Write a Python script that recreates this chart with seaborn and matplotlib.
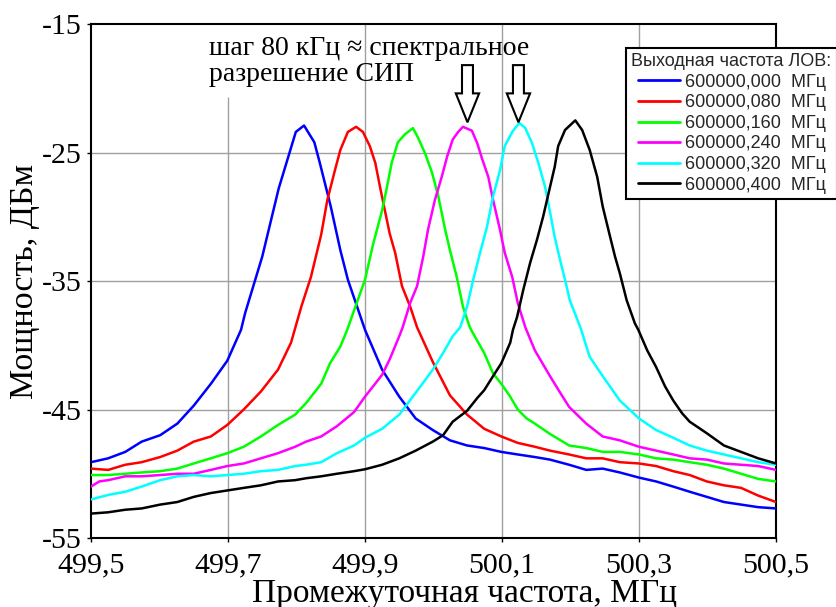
import numpy as np
import pandas as pd
import matplotlib
matplotlib.use("Agg")
import matplotlib.pyplot as plt
import seaborn as sns
from matplotlib.lines import Line2D
from matplotlib.legend_handler import HandlerLine2D
from matplotlib.patches import FancyArrow

# ---------------- data ----------------
lov_freqs = ["600000,000", "600000,080", "600000,160", "600000,240", "600000,320", "600000,400"]
colors = ["#0000ff", "#ff0000", "#00ff00", "#ff00ff", "#00ffff", "#000000"]

x_blue = [499.500, 499.525, 499.550, 499.574, 499.601, 499.626, 499.650, 499.675, 499.699, 499.719,
          499.725, 499.750, 499.774, 499.799, 499.811, 499.826, 499.834, 499.850, 499.864, 499.875,
          499.900, 499.925, 499.950, 499.974, 499.999, 500.024, 500.049, 500.074, 500.099, 500.123,
          500.148, 500.170, 500.198, 500.223, 500.247, 500.272, 500.300, 500.325, 500.350, 500.374,
          500.399, 500.424, 500.449, 500.474, 500.500]
y_blue = [-49.1, -48.8, -48.3, -47.5, -47.0, -46.1, -44.7, -43.0, -41.2, -38.8,
          -37.5, -33.1, -27.8, -23.4, -22.9, -24.2, -25.8, -29.2, -32.6, -34.9,
          -38.8, -41.9, -44.0, -45.7, -46.6, -47.4, -47.8, -48.0, -48.3, -48.5,
          -48.7, -48.9, -49.3, -49.7, -49.6, -49.9, -50.3, -50.6, -51.0, -51.4,
          -51.8, -52.2, -52.4, -52.6, -52.7]

x_red = [499.500, 499.525, 499.550, 499.574, 499.601, 499.626, 499.650, 499.675, 499.699, 499.723,
         499.748, 499.773, 499.792, 499.807, 499.821, 499.836, 499.845, 499.856, 499.864, 499.875,
         499.887, 499.897, 499.907, 499.915, 499.922, 499.929, 499.936, 499.944, 499.954, 499.966,
         499.976, 499.999, 500.024, 500.049, 500.074, 500.099, 500.123, 500.148, 500.170, 500.198,
         500.223, 500.247, 500.272, 500.300, 500.325, 500.350, 500.374, 500.399, 500.424, 500.449,
         500.474, 500.500]
y_red = [-49.6, -49.7, -49.3, -49.1, -48.7, -48.2, -47.5, -47.1, -46.2, -45.0,
         -43.6, -41.9, -39.8, -37.0, -34.7, -31.4, -28.7, -26.4, -24.8, -23.4,
         -23.0, -23.4, -24.5, -25.8, -27.7, -29.5, -31.3, -32.8, -35.4, -37.0,
         -38.6, -41.3, -43.9, -45.4, -46.5, -47.1, -47.6, -47.9, -48.2, -48.5,
         -48.8, -48.8, -49.1, -49.2, -49.4, -49.8, -50.1, -50.6, -50.9, -51.1,
         -51.7, -52.2]

x_green = [499.500, 499.525, 499.550, 499.574, 499.601, 499.626, 499.650, 499.675, 499.699, 499.723,
           499.748, 499.773, 499.798, 499.814, 499.836, 499.849, 499.864, 499.874, 499.888, 499.900,
           499.912, 499.925, 499.932, 499.939, 499.948, 499.958, 499.970, 499.977, 499.988, 499.998,
           500.007, 500.017, 500.024, 500.034, 500.043, 500.053, 500.058, 500.074, 500.087, 500.099,
           500.112, 500.123, 500.136, 500.148, 500.170, 500.198, 500.223, 500.247, 500.272, 500.300,
           500.325, 500.350, 500.374, 500.399, 500.424, 500.449, 500.474, 500.500]
y_green = [-50.1, -50.1, -50.0, -49.9, -49.8, -49.6, -49.2, -48.8, -48.4, -47.9,
           -47.1, -46.2, -45.4, -44.5, -43.0, -41.4, -40.1, -38.8, -36.7, -34.9,
           -32.1, -29.5, -27.7, -25.8, -24.2, -23.6, -23.1, -23.8, -25.1, -26.6,
           -28.4, -31.0, -32.6, -34.7, -37.0, -38.6, -39.1, -40.6, -42.2, -43.0,
           -44.0, -45.0, -45.7, -46.1, -46.9, -47.8, -48.0, -48.3, -48.3, -48.5,
           -48.8, -48.9, -49.1, -49.3, -49.6, -50.0, -50.4, -50.6]

x_magenta = [499.500, 499.512, 499.525, 499.550, 499.574, 499.601, 499.626, 499.650, 499.675, 499.699,
             499.723, 499.748, 499.773, 499.798, 499.814, 499.836, 499.859, 499.884, 499.900, 499.925,
             499.936, 499.950, 499.955, 499.966, 499.976, 499.985, 499.992, 500.002, 500.012, 500.020,
             500.028, 500.036, 500.043, 500.056, 500.064, 500.071, 500.080, 500.087, 500.097, 500.104,
             500.115, 500.123, 500.134, 500.148, 500.170, 500.185, 500.198, 500.223, 500.247, 500.272,
             500.300, 500.325, 500.350, 500.374, 500.399, 500.424, 500.449, 500.474, 500.500]
y_magenta = [-51.0, -50.6, -50.5, -50.2, -50.2, -50.1, -50.0, -50.0, -49.7, -49.4,
             -49.2, -48.8, -48.4, -47.9, -47.5, -47.1, -46.3, -45.2, -44.0, -42.3,
             -41.1, -39.3, -38.6, -36.7, -35.4, -33.1, -31.0, -28.7, -26.9, -25.3,
             -24.0, -23.4, -23.0, -23.3, -24.3, -25.5, -26.9, -28.7, -31.0, -32.8,
             -34.7, -36.7, -38.6, -40.4, -42.4, -43.7, -44.8, -46.1, -47.1, -47.4,
             -47.9, -48.2, -48.5, -48.8, -48.9, -49.2, -49.3, -49.4, -49.7]

x_cyan = [499.500, 499.525, 499.550, 499.574, 499.601, 499.626, 499.650, 499.675, 499.699, 499.723,
          499.748, 499.773, 499.798, 499.814, 499.836, 499.859, 499.884, 499.900, 499.925, 499.950,
          499.974, 499.999, 500.014, 500.028, 500.039, 500.049, 500.058, 500.068, 500.078, 500.087,
          500.097, 500.104, 500.115, 500.125, 500.134, 500.144, 500.153, 500.163, 500.170, 500.177,
          500.185, 500.192, 500.199, 500.215, 500.228, 500.247, 500.272, 500.300, 500.325, 500.350,
          500.374, 500.399, 500.424, 500.449, 500.474, 500.500]
y_cyan = [-52.0, -51.65, -51.4, -51.0, -50.5, -50.2, -50.1, -50.2, -50.1, -50.0,
          -49.8, -49.7, -49.4, -49.3, -49.1, -48.4, -47.8, -47.2, -46.5, -45.4,
          -43.7, -41.9, -40.6, -39.3, -38.6, -37.0, -34.9, -32.8, -30.8, -28.4,
          -26.4, -24.5, -23.4, -22.7, -23.1, -24.3, -25.8, -27.7, -29.6, -31.6,
          -33.4, -34.9, -36.5, -38.7, -40.9, -42.4, -44.3, -45.7, -46.6, -47.2,
          -47.8, -48.2, -48.5, -48.8, -49.1, -49.3]

x_black = [499.500, 499.525, 499.550, 499.574, 499.601, 499.626, 499.650, 499.675, 499.699, 499.723,
           499.748, 499.773, 499.798, 499.814, 499.836, 499.859, 499.884, 499.900, 499.925, 499.950,
           499.974, 499.999, 500.014, 500.028, 500.049, 500.064, 500.074, 500.087, 500.099, 500.112,
           500.116, 500.122, 500.131, 500.141, 500.151, 500.160, 500.170, 500.177, 500.182, 500.192,
           500.207, 500.217, 500.228, 500.239, 500.247, 500.258, 500.265, 500.272, 500.282, 500.294,
           500.299, 500.312, 500.325, 500.338, 500.350, 500.363, 500.374, 500.399, 500.424, 500.449,
           500.474, 500.500]
y_black = [-53.1, -53.0, -52.8, -52.7, -52.4, -52.2, -51.8, -51.5, -51.3, -51.1,
           -50.9, -50.6, -50.5, -50.35, -50.2, -50.0, -49.8, -49.65, -49.3, -48.8,
           -48.2, -47.5, -47.0, -45.95, -45.1, -44.1, -43.5, -42.4, -41.4, -39.8,
           -38.8, -37.8, -35.7, -33.6, -31.8, -30.0, -27.7, -26.1, -24.5, -23.25,
           -22.5, -23.25, -24.8, -26.9, -29.2, -31.6, -33.1, -34.4, -36.5, -38.3,
           -38.8, -40.4, -41.7, -43.2, -44.3, -45.3, -45.95, -46.85, -47.8, -48.3,
           -48.8, -49.2]

xtick_vals = [499.5, 499.7, 499.9, 500.1, 500.3, 500.5]
xtick_labels = ["499,5", "499,7", "499,9", "500,1", "500,3", "500,5"]
ytick_vals = [-55, -45, -35, -25, -15]
ytick_labels = ["-55", "-45", "-35", "-25", "-15"]

arrow_x = [500.0496, 500.124]          # arrows marking the 80 kHz step
annotation = "шаг 80 кГц ≈ спектральное\nразрешение СИП"

# ---------------- build frame ----------------
series_x = [x_blue, x_red, x_green, x_magenta, x_cyan, x_black]
series_y = [y_blue, y_red, y_green, y_magenta, y_cyan, y_black]
labels = [f"{f}  МГц" for f in lov_freqs]
df = pd.concat([pd.DataFrame({"f": xs, "p": ys, "series": lab})
                for xs, ys, lab in zip(series_x, series_y, labels)], ignore_index=True)

sns.set_theme(style="ticks")
plt.rcParams['font.family'] = ['Liberation Serif', 'DejaVu Serif']

fig = plt.figure(figsize=(8.37, 6.07), dpi=100)
ax = fig.add_axes([91/837, 1-538/607, 685/837, 514/607])

# grid (drawn first, under the curves)
grid_c = "#a0a0a0"
for yv in ytick_vals[1:-1]:
    ax.axhline(yv, color=grid_c, lw=1.0, zorder=0)
for i, xv in enumerate(xtick_vals[1:-1]):
    top = -20.68 if i == 0 else -15
    ax.vlines(xv, -55, top, color=grid_c, lw=1.0, zorder=0)

sns.lineplot(data=df, x="f", y="p", hue="series", hue_order=labels, palette=colors,
             estimator=None, sort=False, lw=1.8, ax=ax, legend=False, zorder=3)

ax.set_xlim(499.5, 500.5)
ax.set_ylim(-55, -15)
ax.set_xticks(xtick_vals)
ax.set_xticklabels(xtick_labels)
ax.set_yticks(ytick_vals)
ax.set_yticklabels(ytick_labels)
ax.tick_params(axis='both', direction='out', length=3, width=1, labelsize=21.5, colors='black')
ax.tick_params(axis='x', pad=7)
ax.tick_params(axis='y', pad=4)
for s in ax.spines.values():
    s.set_color('black')
    s.set_linewidth(1.5)

ax.set_xlabel("Промежуточная частота, МГц", fontsize=24, color='black')
ax.set_ylabel("Мощность, ДБм", fontsize=24.5, color='black')
ax.xaxis.set_label_coords(0.546, -0.078)
ax.yaxis.set_label_coords(-0.075, 0.5)

# annotation text
fig.text(209/837, 1-36/607, annotation, ha='left', va='top', fontsize=20,
         linespacing=1.05, color='black')

# arrows
for xa in arrow_x:
    arr = FancyArrow(xa, -18.2, 0, -4.45, width=0.016, head_width=0.034, head_length=2.25,
                     length_includes_head=True, facecolor='white', edgecolor='black',
                     lw=1.5, zorder=6)
    ax.add_patch(arr)

# legend
handles = [Line2D([], [], color=c, lw=2.0) for c in colors]
leg = fig.legend(handles, labels, loc='upper right', bbox_to_anchor=(0.9995, 1-48/607),
                 borderaxespad=0, title="Выходная частота ЛОВ:",
                 prop={'family': 'Liberation Sans', 'size': 13},
                 title_fontproperties={'family': 'Liberation Sans', 'size': 13},
                 alignment='left', frameon=True, fancybox=False, framealpha=1,
                 edgecolor='black', borderpad=0.28, labelspacing=0.2,
                 handlelength=2.7, handletextpad=0.28,
                 handler_map={Line2D: HandlerLine2D(xpad=0.39)})
leg.get_frame().set_linewidth(1.5)

fig.savefig("out.png", dpi=100, facecolor='white')
